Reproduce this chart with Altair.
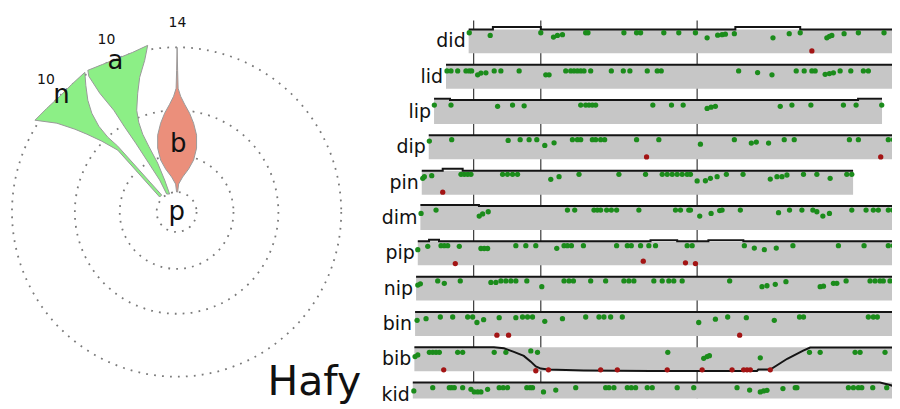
import altair as alt
import pandas as pd

# ---------------- data: left panel (neighbourhood of "p") ----------------
RING_RADII = [20, 57, 102, 165]
PETAL_NAMES = ["n", "a", "b"]
PETAL_COUNTS = ["10", "10", "14"]
PETAL_FILLS = ["#8cef86", "#8cef86", "#eb8f7b"]
# outlines, offsets from the centre p (x right, y up)
N_OUTLINE = [(-92, 140), (-91, 127), (-89, 112), (-85, 99), (-78, 86), (-69, 75), (-59, 66),
             (-15, 17), (-17, 15), (-59, 62), (-75, 71), (-90, 78), (-102, 83), (-120, 89),
             (-142, 92), (-130, 104), (-117, 116), (-105, 128), (-92, 140)]
A_OUTLINE = [(-89, 142), (-74, 148), (-59, 154), (-44, 160), (-29, 167), (-32, 152), (-37, 135),
             (-39, 119), (-40, 102), (-38, 90), (-34, 78), (-28, 66), (-19, 49), (-12, 32),
             (-7, 18), (-10, 18), (-17, 32), (-28, 49), (-41, 69), (-52, 85), (-63, 102),
             (-77, 119), (-88, 136), (-89, 142)]
B_OUTLINE = [(0.5, 165), (1, 142), (1.5, 124), (4, 116), (8, 108), (13, 99), (17, 89), (20, 77),
             (20, 64), (17, 52), (12, 43), (6, 35), (2, 28), (1, 20), (0, 20), (-1, 28), (-5, 35),
             (-11, 43), (-16, 52), (-19, 64), (-19, 77), (-16, 89), (-12, 99), (-7, 108),
             (-3, 116), (-0.5, 124), (0, 142), (0.5, 165)]
PETAL_OUTLINES = [N_OUTLINE, A_OUTLINE, B_OUTLINE]
PETAL_LETTER_POS = [(-115.5, 109), (-61.3, 143.7), (1.7, 60.3)]
PETAL_COUNT_POS = [(-131, 128), (-70.3, 168.7), (0.8, 185.3)]
CENTRE_LABEL = "p"
CENTRE_LABEL_POS = (0, -8)
TITLE_TEXT = "Hafy"
TITLE_POS = (91, -183)

# ---------------- data: right panel (word rows) ----------------
WORDS = ["did", "lid", "lip", "dip", "pin", "dim", "pip", "nip", "bin", "bib", "kid"]
BAND_START = [57.7, 35, 23, 17.7, 10.7, 9.3, 6.7, 5, 4, 3.3, 1.7]
BAND_END = [500, 490, 472, 500, 443, 500, 488, 482, 500, 485, 500]
TICKS = [62.7, 130, 286.7]

LINES = {
    "did": [(57.7, 1), (82, 1), (82, 1.1), (130, 1.1), (130, 1), (325, 1), (325, 1.1), (390, 1.1), (390, 1), (500, 1)],
    "lid": [(35, 1), (490, 1)],
    "lip": [(23, 1.05), (39, 1.05), (39, 1), (448, 1), (448, 1.05), (472, 1.05)],
    "dip": [(17.7, 1), (500, 1)],
    "pin": [(10.7, 1), (31.7, 1), (31.7, 1.08), (51.7, 1.08), (51.7, 1), (443, 1)],
    "dim": [(9.3, 1.04), (68, 1.04), (68, 1), (500, 1)],
    "pip": [(6.7, 1), (18, 1), (18, 1.07), (28, 1.07), (28, 1), (240, 1), (240, 1.05), (266.7, 1.05),
            (266.7, 1), (298, 1), (298, 1.05), (333, 1.05), (333, 1), (488, 1)],
    "nip": [(5, 1), (482, 1)],
    "bin": [(4, 1), (500, 1)],
    "bib": [(3.3, 1), (83, 1), (93, 0.96), (103, 0.81), (113, 0.64), (120, 0.4), (125, 0.2), (130, 0.11),
            (137, 0.07), (173, 0.03), (240, 0.01), (346.7, 0.01), (348, 0.07), (360, 0.07), (377, 0.52),
            (393, 0.86), (400, 0.99), (485, 0.99)],
    "kid": [(1.7, 1), (470, 1), (480, 0.9), (490, 0.76), (500, 0.62)],
}

GREEN_DEFAULT = {"did": 0.86, "lid": 0.74, "lip": 0.79, "dip": 0.82, "pin": 0.85, "dim": 0.83,
                 "pip": 0.82, "nip": 0.82, "bin": 0.79, "bib": 0.79, "kid": 0.79}
GREEN = {
    "did": [58.3, (79.3, 0.75), 130, (142.7, 0.68), (146.7, 0.75), (151.7, 0.78), 175, 177.3, 213.3, 226, 230,
            253.3, 268.3, 285, (296.7, 0.65), (307.3, 0.76), (311.7, 0.78), (315, 0.8), (324, 0.82),
            (362.7, 0.65), (379, 0.82), 390, (416.7, 0.65), (419.3, 0.71), (421.7, 0.75), (434, 0.82),
            448.3, 474, 490],
    "lid": [36, 40, 46.7, 55, 58.3, 60.7, (66.7, 0.58), (70, 0.65), (75, 0.66), 83.3, 90, 108.3, (135, 0.58),
            (138.3, 0.58), 155, 160, 163.3, 166.7, 170, 173.3, 180, 200.7, 212.7, 219.3, 236.7, 246.7, 250.7,
            328.3, (347.3, 0.67), (361.7, 0.58), 386, 394, 401.7, 405, (415, 0.6), (419.3, 0.63),
            (423.3, 0.66), 430, 440.7, 453.3, 458.3, 485],
    "lip": [23.3, 40, (86.7, 0.74), 101.7, (113.3, 0.76), 170, 175, 178.3, 181.7, 185, 242.3, 261, 272.7,
            (296.7, 0.65), (300.7, 0.7), (305, 0.74), (370, 0.74), 381.7, 400.7, 433.3, 446, 471.7],
    "dip": [(18.3, 0.76), 40.7, (97.3, 0.79), 109.3, 118.3, 126, (134, 0.58), (143.3, 0.69), 161.7, 166.7, 170,
            181.7, 185, 190, 194, 226, 248.3, (290, 0.63), 324, (341, 0.68), (346, 0.72), (358.3, 0.68), 374,
            384, 439.3, 448.3, 478.3, 483.3, 488.3],
    "pin": [(11.7, 0.68), (13.3, 0.75), (20.7, 0.79), 50, 53.3, 56.7, 60, 91.7, 96.7, 101.7, 106.7, (140, 0.64),
            (148.3, 0.75), 168.3, 208.3, 235, 251.7, 256.7, 261.7, 266.7, 271.7, 276.7, 280, (286.7, 0.57),
            (295, 0.58), (300, 0.68), (306.7, 0.75), 316, 332.7, (360, 0.65), (366.7, 0.75), (371.7, 0.75),
            (376.7, 0.82), 393.3, 406.7, (420, 0.68), 436.7, 441.7],
    "dim": [(10, 0.69), 25, (68.3, 0.58), (71.7, 0.67), (77.3, 0.76), 156.7, 164, 183.3, 186.7, 190, 196, 200.7,
            206, 228.3, 265, 270, 278.3, 280, (289.3, 0.58), (300.7, 0.69), (309.3, 0.81), 311.7, 330,
            (368.3, 0.72), 379.3, 391.7, 402.7, (406.7, 0.76), (412.7, 0.58), (419.3, 0.69), 441.7, 456, 463.3,
            468.3, 478.3, 482.7, 486.7],
    "pip": [(6.7, 0.65), (16.7, 0.79), 30, 33.3, 36.7, (48.3, 0.79), (70, 0.7), (73.3, 0.7), (76.7, 0.7), 105, 115,
            125, (146, 0.71), 153.3, 156.7, 160.7, 172.7, 206, 216.7, 220.7, 230, 238.3, 245, 276.7, 281.7, 334,
            (344, 0.72), (354, 0.65), (366, 0.72), 382.7, 428.3, 454, 478.3, 483.3, 486.7],
    "nip": [(6.7, 0.65), (9.3, 0.7), 26.7, (33.3, 0.72), 49.3, (80, 0.76), (85, 0.76), 90, 95, 100, 105, 116,
            (131, 0.58), 153.3, 158.3, 162.7, 180, 195, 213.3, 218.3, 223.3, 243.3, 251.7, 258.3, 263.3, 271.7,
            319.3, (351.7, 0.58), (356.7, 0.62), (365, 0.68), (375.7, 0.79), (410, 0.58), (413.3, 0.6),
            (423.3, 0.72), (426.7, 0.72), 436, 460, 465, 470, 473.3, 480],
    "bin": [(6, 0.65), (15, 0.72), 29.3, 41.7, 56.7, 61.7, (66, 0.56), (72.7, 0.68), (88.3, 0.76), (105, 0.76),
            111.7, 116.7, 121.7, (134, 0.61), (151.7, 0.72), 175, 188.3, 193.3, 200, 211.7, (288.3, 0.56),
            (305, 0.7), 317.3, (336, 0.76), (364, 0.65), 389.3, 393.3, 458.3, 463.3, 467.3],
    "bib": [(4, 0.61), (6.7, 0.68), 18.3, 21.7, 25, 28.3, 46.7, 51.7, 83.3, 95, (120, 0.85), 126.7, 257.3,
            (293.3, 0.54), (296.7, 0.61), (299, 0.65), (350, 0.56), 399.3, 410, 445, 450, 475, 485],
    "kid": [(2.7, 0.65), 21.7, 38.3, 40.7, 43.3, 51.7, (60, 0.72), (63.3, 0.61), (66.7, 0.61), (70, 0.61),
            (76.7, 0.72), 88.3, 92.3, 96.7, 116, 119.3, 121.7, (132.7, 0.61), (145, 0.69), 165, 195, 198.3, 203.3,
            216.7, 220.7, 225, 236.7, 241.7, 266.7, 283.3, 326.7, (339.3, 0.69), (350, 0.61), (353.3, 0.65),
            (356.7, 0.68), (372.7, 0.75), 385, 386.7, 438.3, 443.3, 448.3, 451.7, 462.7, 476.7],
}
RED_DEFAULT = 0.06
RED = {
    "did": [(401.7, 0.1)],
    "dip": [(236, 0.1), (470.7, 0.1)],
    "pin": [(31.7, 0.1)],
    "pip": [(44.3, 0.07), (232.7, 0.17), (275, 0.1), (285, 0.07)],
    "bin": [(86, 0.03), (97.7, 0.03), (329.3, 0.03)],
    "bib": [32.7, (125, 0.02), 137.7, 190, 206.7, 256.7, 291.7, 321.7, 333.3, 336.7, 340, 360],
    "kid": [(490, 0.1)],
}

# ---------------- layout constants ----------------
H = 386
W_L, W_R = 345, 482
PITCH = 1.475          # row pitch in band heights
TOP_V = 1.6667
BOTTOM_V = TOP_V - H / 24
RULE_TOP = 1.375
FONT = "DejaVu Sans"

LX = alt.Scale(domain=[-167, 178])
LY = alt.Scale(domain=[199 - H, 199])
RX = alt.Scale(domain=[0, W_R])
RY = alt.Scale(domain=[BOTTOM_V, TOP_V])

# ---------------- left panel ----------------
ring_df = pd.DataFrame({"r": RING_RADII, "cx": 0, "cy": 0})
rings = alt.Chart(ring_df).transform_calculate(
    area="pow(2 * datum.r, 2)"
).mark_point(shape="circle", filled=False, stroke="#7a7a7a", strokeWidth=1.8,
             strokeDash=[1.8, 6.2], opacity=1).encode(
    x=alt.X("cx:Q", scale=LX, axis=None),
    y=alt.Y("cy:Q", scale=LY, axis=None),
    size=alt.Size("area:Q", scale=None, legend=None),
)

petal_layers = []
for name, outline, fill in zip(PETAL_NAMES, PETAL_OUTLINES, PETAL_FILLS):
    df = pd.DataFrame({"x": [p[0] for p in outline], "y": [p[1] for p in outline],
                       "i": list(range(len(outline)))})
    petal_layers.append(
        alt.Chart(df).mark_line(fill=fill, stroke="#9a9a9a", strokeWidth=1, fillOpacity=1).encode(
            x=alt.X("x:Q", scale=LX, axis=None),
            y=alt.Y("y:Q", scale=LY, axis=None),
            order="i:Q",
        )
    )

letters_df = pd.DataFrame({
    "t": PETAL_NAMES + [CENTRE_LABEL],
    "x": [p[0] for p in PETAL_LETTER_POS] + [CENTRE_LABEL_POS[0]],
    "y": [p[1] for p in PETAL_LETTER_POS] + [CENTRE_LABEL_POS[1]],
})
letters = alt.Chart(letters_df).mark_text(fontSize=26, font=FONT, color="#111", baseline="alphabetic",
                                          align="center").encode(
    x=alt.X("x:Q", scale=LX, axis=None), y=alt.Y("y:Q", scale=LY, axis=None), text="t:N")

counts_df = pd.DataFrame({
    "t": PETAL_COUNTS,
    "x": [p[0] for p in PETAL_COUNT_POS],
    "y": [p[1] for p in PETAL_COUNT_POS],
})
counts = alt.Chart(counts_df).mark_text(fontSize=14, font=FONT, color="#111", baseline="alphabetic",
                                        align="center").encode(
    x=alt.X("x:Q", scale=LX, axis=None), y=alt.Y("y:Q", scale=LY, axis=None), text="t:N")

title_df = pd.DataFrame({"t": [TITLE_TEXT], "x": [TITLE_POS[0]], "y": [TITLE_POS[1]]})
title = alt.Chart(title_df).mark_text(fontSize=41, font=FONT, color="#111", baseline="alphabetic",
                                      align="left").encode(
    x=alt.X("x:Q", scale=LX, axis=None), y=alt.Y("y:Q", scale=LY, axis=None), text="t:N")

left = alt.layer(rings, *petal_layers, letters, counts, title).properties(width=W_L, height=H)

# ---------------- right panel ----------------
def points(table, defaults):
    recs = []
    for k, w in enumerate(WORDS):
        for item in table.get(w, []):
            if isinstance(item, tuple):
                x, v = item
            else:
                x, v = item, defaults(w)
            recs.append({"word": w, "k": k, "x": x, "v": v})
    return pd.DataFrame(recs, columns=["word", "k", "x", "v"])

green_df = points(GREEN, lambda w: GREEN_DEFAULT[w])
red_df = points(RED, lambda w: RED_DEFAULT)

line_recs = []
for k, w in enumerate(WORDS):
    for i, (x, v) in enumerate(LINES[w]):
        line_recs.append({"word": w, "k": k, "i": i, "x": x, "v": v})
line_df = pd.DataFrame(line_recs)

band_df = pd.DataFrame({"word": WORDS, "k": list(range(len(WORDS))), "start": BAND_START, "end": BAND_END})
tick_df = pd.DataFrame({"t": TICKS})

ycalc = f"datum.v - datum.k * {PITCH}"

rules = alt.Chart(tick_df).mark_rule(color="#3a3a3a", strokeWidth=1.2, clip=True).encode(
    x=alt.X("t:Q", scale=RX, axis=None),
    y=alt.YDatum(RULE_TOP, scale=RY, axis=None),
    y2=alt.Y2Datum(BOTTOM_V),
)

bands = alt.Chart(band_df).transform_calculate(
    y0=f"-datum.k * {PITCH}", y1=f"1 - datum.k * {PITCH}"
).mark_rect(color="#c6c6c6", clip=True).encode(
    x=alt.X("start:Q", scale=RX, axis=None), x2="end:Q",
    y=alt.Y("y1:Q", scale=RY, axis=None), y2="y0:Q",
)

lines = alt.Chart(line_df).transform_calculate(y=ycalc).mark_line(
    color="#141414", strokeWidth=2, clip=True).encode(
    x=alt.X("x:Q", scale=RX, axis=None),
    y=alt.Y("y:Q", scale=RY, axis=None),
    detail="word:N", order="i:Q",
)

greens = alt.Chart(green_df).transform_calculate(y=ycalc).mark_circle(
    color="#1b8c1b", size=28, opacity=1, clip=True).encode(
    x=alt.X("x:Q", scale=RX, axis=None), y=alt.Y("y:Q", scale=RY, axis=None))

reds = alt.Chart(red_df).transform_calculate(y=ycalc).mark_circle(
    color="#a31414", size=28, opacity=1, clip=True).encode(
    x=alt.X("x:Q", scale=RX, axis=None), y=alt.Y("y:Q", scale=RY, axis=None))

labels = alt.Chart(band_df).transform_calculate(y=f"0.25 - datum.k * {PITCH}").mark_text(
    align="right", baseline="alphabetic", dx=-3, fontSize=19, font=FONT, color="#111").encode(
    x=alt.X("start:Q", scale=RX, axis=None), y=alt.Y("y:Q", scale=RY, axis=None), text="word:N")

right = alt.layer(rules, bands, lines, greens, reds, labels).properties(width=W_R, height=H)

chart = alt.hconcat(left, right, spacing=57, bounds="flush").properties(
    padding={"left": 0, "top": 5, "right": 0, "bottom": 0}
).configure_view(stroke=None)

chart.save("out.html", embed_options={"renderer": "svg", "actions": False})
